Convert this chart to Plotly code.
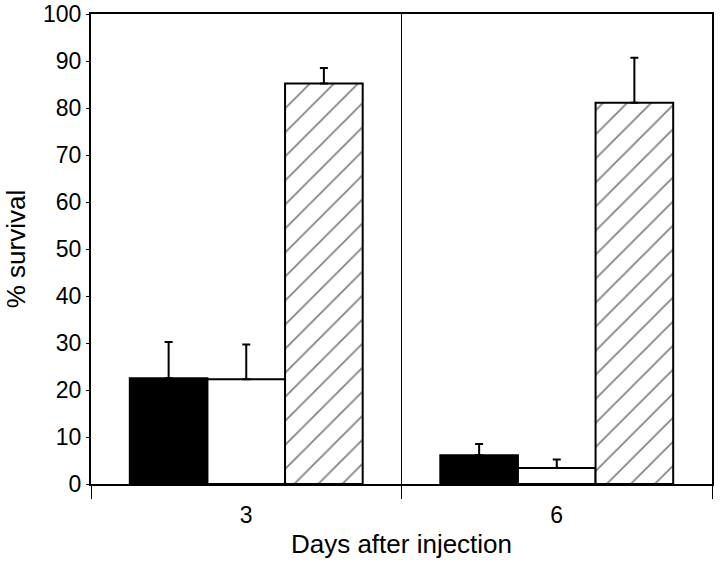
import plotly.graph_objects as go

days = ["3", "6"]
series_names = ["Group A", "Group B", "Group C"]
survival_a = [22.5, 6.1]
survival_b = [22.3, 3.4]
survival_c = [85.2, 81.1]
err_a = [7.7, 2.4]
err_b = [7.4, 1.8]
err_c = [3.3, 9.6]
y_ticks = [0, 10, 20, 30, 40, 50, 60, 70, 80, 90, 100]

FONT = "Liberation Sans, Arial, sans-serif"

def err(vals):
    return dict(type="data", array=vals, arrayminus=[0] * len(vals), symmetric=False,
                color="black", thickness=2, width=4, visible=True)

fig = go.Figure()
fig.add_trace(go.Bar(
    x=days, y=survival_a, name=series_names[0],
    marker=dict(color="black", line=dict(color="black", width=2)),
    error_y=err(err_a),
))
fig.add_trace(go.Bar(
    x=days, y=survival_b, name=series_names[1],
    marker=dict(color="white", line=dict(color="black", width=2)),
    error_y=err(err_b),
))
fig.add_trace(go.Bar(
    x=days, y=survival_c, name=series_names[2],
    marker=dict(color="white", line=dict(color="black", width=2),
                pattern=dict(shape="/", fgcolor="black", bgcolor="white", size=17, solidity=0.1)),
    error_y=err(err_c),
))

fig.update_layout(
    width=720, height=565,
    margin=dict(l=91, r=8, t=14, b=81),
    paper_bgcolor="white", plot_bgcolor="white",
    barmode="group", bargap=0.25, bargroupgap=0,
    showlegend=False,
    font=dict(family=FONT, color="black", size=23),
    xaxis=dict(
        type="category", range=[-0.5, 1.5], automargin=False,
        showline=True, linecolor="black", linewidth=2, mirror=True,
        ticks="outside", tickson="boundaries", ticklen=13, tickwidth=1, tickcolor="black",
        ticklabelstandoff=9,
        showgrid=True, gridcolor="black", gridwidth=1,
        tickfont=dict(size=23, family=FONT),
        title=dict(text="Days after injection", font=dict(size=26, family=FONT), standoff=8),
    ),
    yaxis=dict(
        range=[0, 100], tickvals=y_ticks, automargin=False,
        ticklabeloverflow="allow",
        showline=True, linecolor="black", linewidth=2, mirror=True,
        ticks="outside", ticklen=3, tickwidth=1, tickcolor="black",
        showgrid=False, zeroline=False,
        tickfont=dict(size=23, family=FONT),
        title=dict(text="% survival", font=dict(size=26, family=FONT), standoff=10),
    ),
)

fig.write_html(
    "out.html",
    config={"displayModeBar": False},
    post_script="document.body.style.margin='0';document.body.style.overflow='hidden';",
)
